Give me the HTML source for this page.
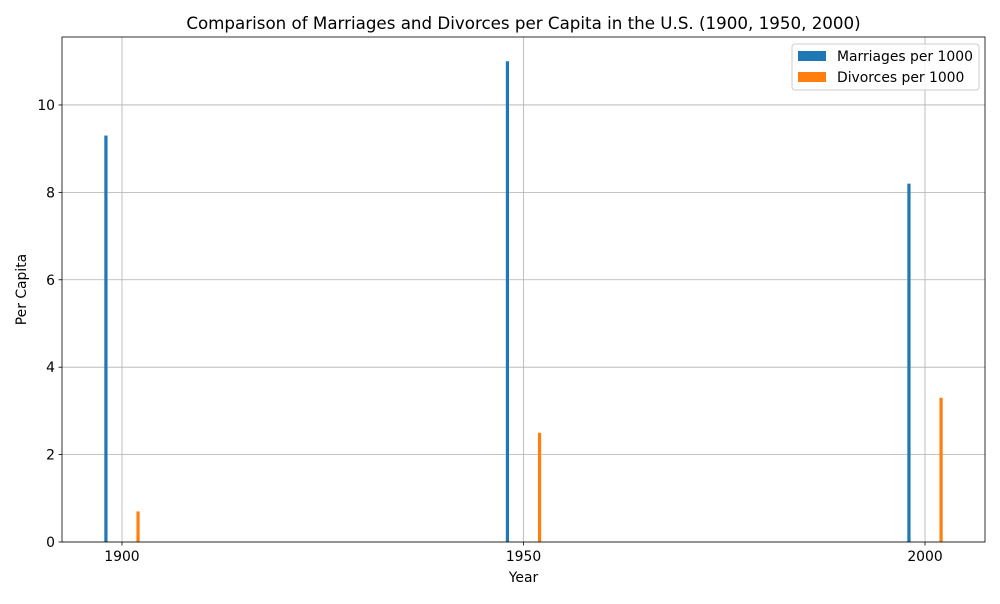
<!DOCTYPE html>
<html><head><meta charset="utf-8"><style>
body{margin:0;background:#fff;font-family:"DejaVu Sans","Liberation Sans",sans-serif}
svg text{font-family:"DejaVu Sans","Liberation Sans",sans-serif;fill:#000}
</style></head><body>
<svg id="chart" width="1000" height="600" xmlns="http://www.w3.org/2000/svg">
<rect width="1000" height="600" fill="#fff"/>
<g id="grid"></g>
<g id="bars"></g>
<g id="axes"></g>
</svg>
<script>
const years = [1900, 1950, 2000];
const marriages = [9.3, 11.0, 8.2];
const divorces = [0.7, 2.5, 3.3];
const xTicks = [1900, 1950, 2000];
const yTicks = [0, 2, 4, 6, 8, 10];

const L = 62, R = 985, T = 37, B = 542;
const xMin = 1892.53, xMax = 2007.47, yMin = 0, yMax = 11.555;
const xs = v => L + (v - xMin) / (xMax - xMin) * (R - L);
const ys = v => B - (v - yMin) / (yMax - yMin) * (B - T);
const NS = "http://www.w3.org/2000/svg";
function mk(tag, attrs, parent, text) {
  const e = document.createElementNS(NS, tag);
  for (const k in attrs) e.setAttribute(k, attrs[k]);
  if (text !== undefined) e.textContent = text;
  parent.appendChild(e);
  return e;
}
const grid = document.getElementById('grid');
const bars = document.getElementById('bars');
const axes = document.getElementById('axes');
const FS = 13.9;

xTicks.forEach(t => {
  const g = mk('line', {x1: xs(t), x2: xs(t), y1: T, y2: B, stroke: '#b0b0b0', 'stroke-width': 0.8}, grid);
  
  
  const tk = mk('line', {x1: xs(t), x2: xs(t), y1: B, y2: B + 3.5, stroke: '#000', 'stroke-width': 0.8}, axes);
  
  
  const lb = mk('text', {x: xs(t), y: B + 19, 'text-anchor': 'middle', 'font-size': FS}, axes, t);
  
  
});
yTicks.forEach(t => {
  const g = mk('line', {x1: L, x2: R, y1: ys(t), y2: ys(t), stroke: '#b0b0b0', 'stroke-width': 0.8}, grid);
  
  
  const tk = mk('line', {x1: L - 3.5, x2: L, y1: ys(t), y2: ys(t), stroke: '#000', 'stroke-width': 0.8}, axes);
  
  
  const lb = mk('text', {x: L - 7, y: ys(t) + 5, 'text-anchor': 'end', 'font-size': FS}, axes, t);
  
  
});

const bw = 0.4;
years.forEach((y, i) => {
  const m = mk('rect', {x: xs(y - 2 - bw / 2), y: ys(marriages[i]), width: xs(y + bw / 2) - xs(y - bw / 2), height: ys(0) - ys(marriages[i]), fill: '#1f77b4'}, bars);
  
  
  const d = mk('rect', {x: xs(y + 2 - bw / 2), y: ys(divorces[i]), width: xs(y + bw / 2) - xs(y - bw / 2), height: ys(0) - ys(divorces[i]), fill: '#ff7f0e'}, bars);
  
  
});

const frame = mk('rect', {x: L, y: T, width: R - L, height: B - T, fill: 'none', stroke: '#000', 'stroke-width': 0.8}, axes);



const title = mk('text', {x: (L + R) / 2, y: 29, 'text-anchor': 'middle', 'font-size': 16.7}, axes, 'Comparison of Marriages and Divorces per Capita in the U.S. (1900, 1950, 2000)');


const xt = mk('text', {x: (L + R) / 2, y: 582, 'text-anchor': 'middle', 'font-size': FS}, axes, 'Year');


const yt = mk('text', {x: 26, y: (T + B) / 2, 'text-anchor': 'middle', 'font-size': FS, transform: 'rotate(-90 26 ' + (T + B) / 2 + ')'}, axes, 'Per Capita');



const lg = mk('g', {}, axes);


mk('rect', {x: 792, y: 44, width: 187, height: 46, rx: 3, fill: '#fff', 'fill-opacity': 0.8, stroke: '#ccc'}, lg);
const e1 = mk('g', {}, lg);


mk('rect', {x: 798, y: 51, width: 28, height: 10, fill: '#1f77b4'}, e1);
mk('text', {x: 837, y: 61, 'font-size': FS}, e1, 'Marriages per 1000');
const e2 = mk('g', {}, lg);


mk('rect', {x: 798, y: 72, width: 28, height: 10, fill: '#ff7f0e'}, e2);
mk('text', {x: 837, y: 82, 'font-size': FS}, e2, 'Divorces per 1000');
</script>
</body></html>
